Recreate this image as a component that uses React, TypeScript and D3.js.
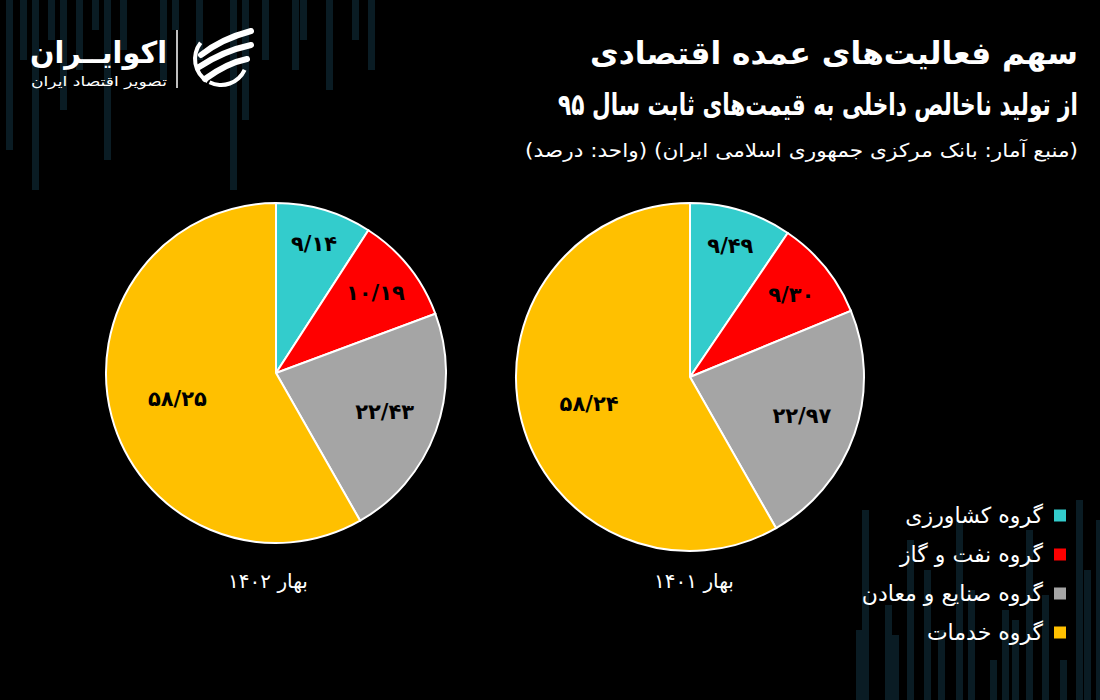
import React from "react";
import * as d3 from "d3";

const categories = ["گروه کشاورزی", "گروه نفت و گاز", "گروه صنایع و معادن", "گروه خدمات"];
const colors = ["#33cccc", "#ff0000", "#a5a5a5", "#ffc000"];
const series1402 = [9.14, 10.19, 22.43, 58.25];
const series1401 = [9.49, 9.3, 22.97, 58.24];
const pieTitles = ["بهار ۱۴۰۲", "بهار ۱۴۰۱"];
const titleLine1 = "سهم فعالیت‌های عمده اقتصادی";
const titleLine2 = "از تولید ناخالص داخلی به قیمت‌های ثابت سال ۹۵";
const subtitle = "(منبع آمار: بانک مرکزی جمهوری اسلامی ایران) (واحد: درصد)";
const logoName = "اکوایــران";
const logoTag = "تصویر اقتصاد ایران";

// decorative background bars: [x, length]
const decoTop = [
  [6, 150], [20, 60], [32, 190], [48, 40], [60, 110], [76, 70], [92, 30], [104, 160],
  [120, 50], [160, 80], [172, 30], [196, 60], [230, 190], [242, 120], [262, 60],
  [292, 70], [300, 40], [326, 90], [352, 40], [368, 70],
];
const decoBottom = [
  [856, 70], [862, 190], [885, 95], [892, 65], [907, 160], [924, 130], [938, 70],
  [956, 180], [968, 110], [990, 40], [1002, 90], [1012, 80], [1026, 170], [1042, 105],
  [1060, 40], [1076, 200], [1084, 130], [1096, 180],
];

const FONT = "'DejaVu Sans', sans-serif";
const faDigits = (s: string) => s.replace(/[0-9]/g, (d) => "۰۱۲۳۴۵۶۷۸۹"[+d]);
const fmt = (v: number) => faDigits(v.toFixed(2).replace(".", "/"));

const labelFactors = [0.79, 0.75, 0.68, 0.6];

function Pie({ values, cx, cy, r, title, titleX }: { values: number[]; cx: number; cy: number; r: number; title: string; titleX: number }) {
  const pie = d3.pie<number>().sort(null).value((d) => d);
  const arcs = pie(values);
  const arc = d3.arc<d3.PieArcDatum<number>>().innerRadius(0).outerRadius(r);
  return (
    <g>
      <g transform={`translate(${cx},${cy})`}>
        {arcs.map((a, i) => (
          <path key={i} d={arc(a) || ""} fill={colors[i]} stroke="#ffffff" strokeWidth={2} />
        ))}
        {arcs.map((a, i) => {
          const lr = r * labelFactors[i];
          const c = d3.arc<d3.PieArcDatum<number>>().innerRadius(lr).outerRadius(lr).centroid(a);
          return (
            <text key={"l" + i} x={c[0]} y={c[1]} textAnchor="middle" dominantBaseline="central"
              fontFamily={FONT} fontWeight="bold" fontSize={21} fill="#000">
              {fmt(values[i])}
            </text>
          );
        })}
      </g>
      <text x={titleX} y={581} textAnchor="middle" dominantBaseline="central" fontFamily={FONT}
        fontSize={20} fill="#fff" direction="rtl">
        {title}
      </text>
    </g>
  );
}

export default function App() {
  const W = 1100, H = 700;
  const legendY = d3.scaleBand<number>().domain(d3.range(categories.length)).range([496, 652]);
  return (
    <svg width={W} height={H} style={{ position: "absolute", left: 0, top: 0, display: "block" }}>
      <rect width={W} height={H} fill="#000" />
      {decoTop.map(([x, l], i) => (
        <rect key={"t" + i} x={x} y={0} width={7} height={l} fill="#0a1c24" />
      ))}
      {decoBottom.map(([x, l], i) => (
        <rect key={"b" + i} x={x} y={H - l} width={7} height={l} fill="#0a1c24" />
      ))}

      {/* logo */}
      <g>
        <text x={167} y={63} textAnchor="start" fontFamily={FONT} fontWeight="bold" fontSize={30} fill="#fff" direction="rtl"
          textLength={137} lengthAdjust="spacingAndGlyphs">
          {logoName}
        </text>
        <text x={167} y={86} textAnchor="start" fontFamily={FONT} fontSize={13} fill="#fff" direction="rtl"
          textLength={136} lengthAdjust="spacingAndGlyphs">
          {logoTag}
        </text>
        <line x1={177} y1={30} x2={177} y2={88} stroke="#fff" strokeWidth={1.5} />
        <g transform="translate(221,59)" fill="none" stroke="#fff" strokeLinecap="round">
          <path d={d3.arc()({ innerRadius: 24, outerRadius: 28, startAngle: -2.6, endAngle: -0.9 } as any) || ""} fill="#fff" stroke="none" />
          <path d={d3.arc()({ innerRadius: 24, outerRadius: 28, startAngle: 2.0, endAngle: 3.6 } as any) || ""} fill="#fff" stroke="none" />
          <path d="M-20,-4 Q0,-20 30,-28" strokeWidth={6} />
          <path d="M-22,8 Q2,-8 30,-14" strokeWidth={6} />
          <path d="M-16,20 Q6,4 26,0" strokeWidth={6} />
        </g>
      </g>

      {/* titles */}
      <text x={1078} y={64} textAnchor="start" fontFamily={FONT} fontWeight="bold" fontSize={31} fill="#fff" direction="rtl"
        textLength={488} lengthAdjust="spacingAndGlyphs">
        {titleLine1}
      </text>
      <text x={1078} y={115} textAnchor="start" fontFamily={FONT} fontWeight="bold" fontSize={30} fill="#fff" direction="rtl"
        textLength={520} lengthAdjust="spacingAndGlyphs">
        {titleLine2}
      </text>
      <text x={1078} y={157} textAnchor="start" fontFamily={FONT} fontSize={19} fill="#fff" direction="rtl"
        textLength={553} lengthAdjust="spacingAndGlyphs">
        {subtitle}
      </text>

      <Pie values={series1402} cx={276} cy={373} r={170} title={pieTitles[0]} titleX={268} />
      <Pie values={series1401} cx={690} cy={377} r={174} title={pieTitles[1]} titleX={694} />

      {/* legend */}
      {categories.map((c, i) => {
        const y = (legendY(i) as number) + legendY.bandwidth() / 2;
        return (
          <g key={"lg" + i}>
            <rect x={1054} y={y - 6} width={12} height={12} fill={colors[i]} />
            <text x={1043} y={y} textAnchor="start" dominantBaseline="central" fontFamily={FONT} fontSize={22} fill="#fff" direction="rtl">
              {c}
            </text>
          </g>
        );
      })}
    </svg>
  );
}
